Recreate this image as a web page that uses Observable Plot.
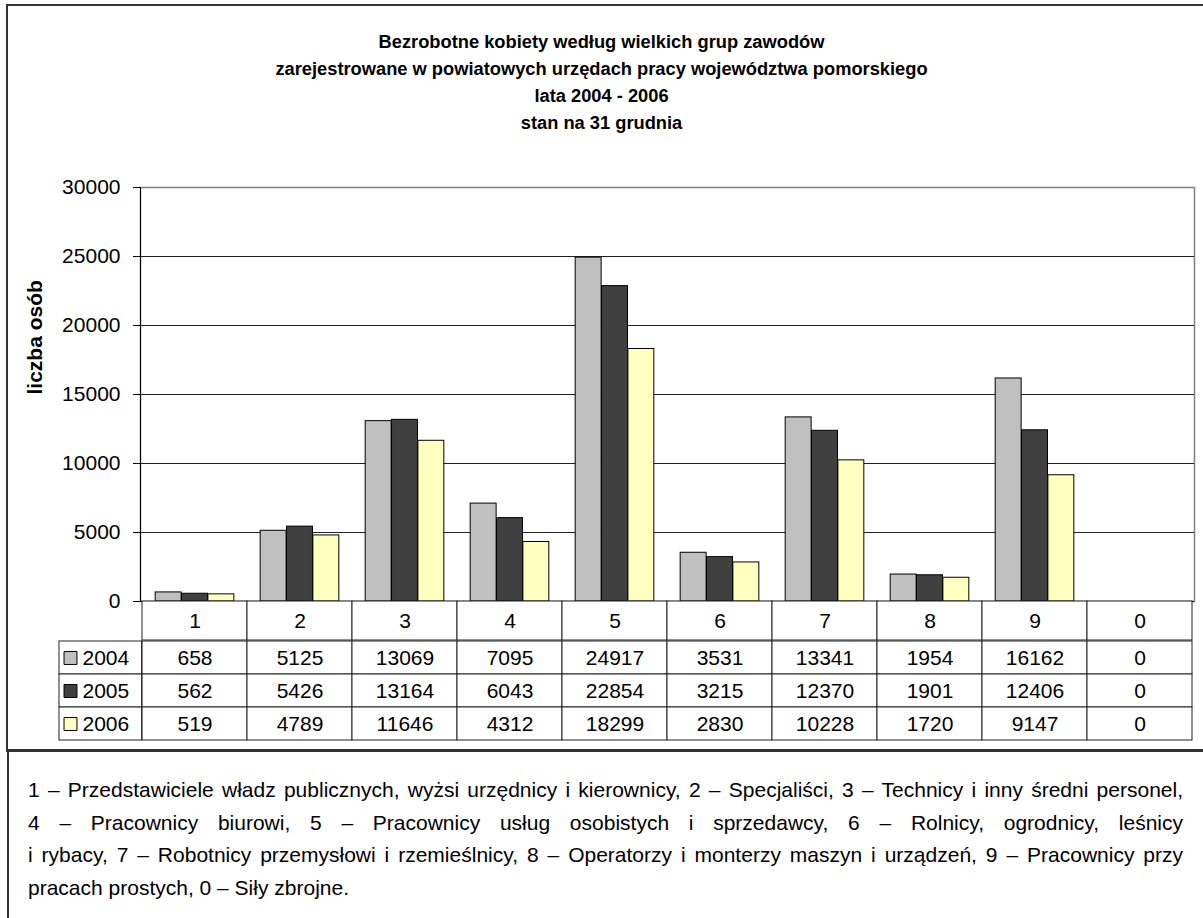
<!DOCTYPE html>
<html>
<head>
<meta charset="utf-8">
<script src="https://cdn.jsdelivr.net/npm/d3@7"></script>
<script src="https://cdn.jsdelivr.net/npm/@observablehq/plot@0.6"></script>
<style>
  html, body { margin: 0; padding: 0; background: #fff; }
  #page { position: relative; width: 1203px; height: 918px; overflow: hidden; font-family: "Liberation Sans", Arial, sans-serif; color: #000; }
  #chartBox { position: absolute; left: 6px; top: 4px; width: 1300px; height: 744px; border: 2px solid #333; }
  #noteBox { position: absolute; left: 7px; top: 749px; width: 1300px; height: 400px; border-left: 2px solid #333; border-top: 2px solid #333; }
  #title { position: absolute; left: 0; top: 28px; width: 1203px; text-align: center; font-weight: bold; font-size: 18.3px; line-height: 27px; }
  #bars { position: absolute; left: 0; top: 170px; }
  #catRow { position: absolute; left: 0; top: 601px; }
  #table { position: absolute; left: 0; top: 640px; }
  #note { position: absolute; left: 28px; top: 774px; width: 1155px; font-size: 21px; line-height: 32.5px; }
  #note div { text-align: justify; text-align-last: justify; white-space: nowrap; }
  #note div.last { text-align-last: left; }
</style>
</head>
<body>
<div id="page">
  <div id="chartBox"></div>
  <div id="noteBox"></div>
  <div id="title"></div>
  <div id="bars"></div>
  <div id="catRow"></div>
  <div id="table"></div>
  <div id="note"></div>
</div>
<script>
// ---- data ----
const titleLines = [
  "Bezrobotne kobiety według wielkich grup zawodów",
  "zarejestrowane w powiatowych urzędach pracy województwa pomorskiego",
  "lata 2004 - 2006",
  "stan na 31 grudnia"
];
const yLabel = "liczba osób";
const categories = ["1", "2", "3", "4", "5", "6", "7", "8", "9", "0"];
const years = ["2004", "2005", "2006"];
const values2004 = [658, 5125, 13069, 7095, 24917, 3531, 13341, 1954, 16162, 0];
const values2005 = [562, 5426, 13164, 6043, 22854, 3215, 12370, 1901, 12406, 0];
const values2006 = [519, 4789, 11646, 4312, 18299, 2830, 10228, 1720, 9147, 0];
const yTicks = [0, 5000, 10000, 15000, 20000, 25000, 30000];
const colors = ["#C0C0C0", "#404040", "#FFFFC0"];
const noteLines = [
  "1 – Przedstawiciele władz publicznych, wyżsi urzędnicy i kierownicy, 2 – Specjaliści, 3 – Technicy i inny średni personel,",
  "4 – Pracownicy biurowi, 5 – Pracownicy usług osobistych i sprzedawcy, 6 – Rolnicy, ogrodnicy, leśnicy",
  "i rybacy, 7 – Robotnicy przemysłowi i rzemieślnicy, 8 – Operatorzy i monterzy maszyn i urządzeń, 9 – Pracownicy przy",
  "pracach prostych, 0 – Siły zbrojne."
];

// ---- layout ----
const W = 1203, ML = 140, MR = 9;
const B = (W - ML - MR) / categories.length;   // band width
const barW = B / 4, off0 = B / 8;
const fontFam = "'Liberation Sans', Arial, sans-serif";
const series = [values2004, values2005, values2006];
const baseStyle = {fontFamily: fontFam, fontSize: "21px", background: "transparent", color: "#000", overflow: "visible"};

document.getElementById("title").innerHTML = titleLines.join("<br>");
const note = document.getElementById("note");
noteLines.forEach((t, i) => {
  const d = document.createElement("div");
  d.textContent = t;
  if (i === noteLines.length - 1) d.className = "last";
  note.appendChild(d);
});

// ---- bar chart ----
const barMarks = series.map((vals, i) =>
  Plot.barY(categories.map((c, j) => ({cat: c, value: vals[j]})), {
    x: "cat", y: "value", fill: colors[i], stroke: "#000", strokeWidth: 1,
    insetLeft: off0 + i * barW, insetRight: B - off0 - (i + 1) * barW
  })
);

const bars = Plot.plot({
  width: W, height: 447,
  marginLeft: ML, marginRight: MR, marginTop: 17, marginBottom: 16,
  style: baseStyle,
  x: {domain: categories, padding: 0, axis: null},
  y: {domain: [0, 30000], axis: null},
  marks: [
    Plot.frame({stroke: "#808080", strokeWidth: 1.5}),
    Plot.gridY(yTicks.filter(t => t > 0 && t < 30000), {stroke: "#222", strokeOpacity: 1, strokeWidth: 1}),
    ...barMarks,
    Plot.ruleY([0], {stroke: "#000", strokeWidth: 1}),
    Plot.frame({anchor: "left", stroke: "#000", strokeWidth: 1}),
    Plot.axisY({ticks: yTicks, tickSize: 7, tickPadding: 13, tickFormat: d => String(d), label: null, fontSize: 21}),
    Plot.text([yLabel], {frameAnchor: "left", rotate: -90, dx: -105, fontWeight: "bold", fontSize: 21})
  ]
});
document.getElementById("bars").appendChild(bars);

// ---- category header row of the data table ----
const catRow = Plot.plot({
  width: W, height: 39,
  marginLeft: ML, marginRight: MR, marginTop: 0, marginBottom: 0,
  style: baseStyle,
  x: {domain: categories, padding: 0, axis: null},
  y: {domain: ["cat"], padding: 0, axis: null},
  marks: [
    Plot.cell(categories, {x: d => d, y: () => "cat", fill: "white", stroke: "#222", inset: 0}),
    Plot.text(categories, {x: d => d, y: () => "cat", text: d => d, fontSize: 21})
  ]
});
document.getElementById("catRow").appendChild(catRow);

// ---- data table ----
const tableData = [];
years.forEach((y, i) => categories.forEach((c, j) => tableData.push({cat: c, row: y, value: series[i][j]})));
const legendW = 83;

const table = Plot.plot({
  width: W, height: 101,
  marginLeft: ML, marginRight: MR, marginTop: 0, marginBottom: 1,
  style: baseStyle,
  x: {domain: categories, padding: 0, axis: null},
  y: {domain: years, padding: 0, axis: null},
  marks: [
    Plot.cell(tableData, {x: "cat", y: "row", fill: "white", stroke: "#222", inset: 0}),
    Plot.cell(years, {x: () => categories[0], y: d => d, fill: "white", stroke: "#222",
      insetTop: 0, insetBottom: 0, insetLeft: -legendW, insetRight: B}),
    Plot.text(tableData, {x: "cat", y: "row", text: d => String(d.value), fontSize: 21}),
    Plot.dot(years, {y: d => d, frameAnchor: "left", dx: -70, symbol: "square", r: 7.3,
      fill: (d, i) => colors[i], stroke: "#000", strokeWidth: 1}),
    Plot.text(years, {y: d => d, frameAnchor: "left", dx: -58, textAnchor: "start", text: d => d, fontSize: 21})
  ]
});
document.getElementById("table").appendChild(table);
</script>
</body>
</html>
